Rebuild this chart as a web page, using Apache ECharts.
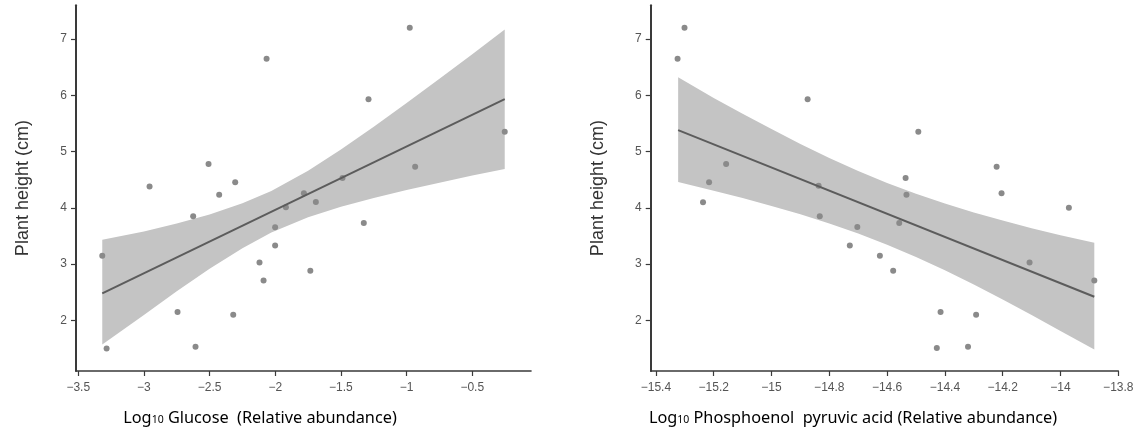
<!DOCTYPE html>
<html>
<head>
<meta charset="utf-8">
<script src="https://cdn.jsdelivr.net/npm/echarts@6/dist/echarts.min.js"></script>
<style>
html,body{margin:0;padding:0;background:#fff;}
#chart{width:1143px;height:437px;}
</style>
</head>
<body>
<div id="chart"></div>
<script>
// ---------- data ----------
const yTicks = [2, 3, 4, 5, 6, 7];
const leftXTicks = [-3.5, -3, -2.5, -2, -1.5, -1, -0.5];
const rightXTicks = [-15.4, -15.2, -15, -14.8, -14.6, -14.4, -14.2, -14, -13.8];

// Left panel: Log10 Glucose vs plant height
const glucoseX = [-3.317, -3.284, -2.957, -2.744, -2.625, -2.607, -2.508, -2.427, -2.320, -2.305,
  -2.120, -2.089, -2.066, -2.001, -2.001, -1.919, -1.782, -1.733, -1.691, -1.488,
  -1.326, -1.290, -0.976, -0.935, -0.253];
const glucoseY = [3.15, 1.50, 4.38, 2.15, 3.85, 1.53, 4.78, 4.23, 2.10, 4.455,
  3.03, 2.71, 6.65, 3.655, 3.33, 4.01, 4.26, 2.88, 4.105, 4.53,
  3.73, 5.93, 7.20, 4.73, 5.35];
const glucoseFitX = [-3.317, -0.253];
const glucoseFitY = [2.48, 5.93];
const glucoseBandX = [-3.317, -3.0, -2.75, -2.5, -2.25, -2.03, -1.75, -1.5, -1.25, -1.0, -0.75, -0.5, -0.253];
const glucoseBandUpper = [3.43, 3.577, 3.721, 3.883, 4.079, 4.299, 4.658, 5.035, 5.441, 5.863, 6.293, 6.728, 7.17];
const glucoseBandLower = [1.57, 2.097, 2.515, 2.917, 3.283, 3.559, 3.830, 4.017, 4.173, 4.315, 4.447, 4.576, 4.69];

// Right panel: Log10 Phosphoenol pyruvic acid vs plant height
const pepX = [-15.325, -15.301, -15.237, -15.216, -15.157, -14.875, -14.837, -14.833, -14.729, -14.703,
  -14.625, -14.579, -14.558, -14.536, -14.533, -14.492, -14.428, -14.415, -14.320, -14.292,
  -14.221, -14.204, -14.107, -13.971, -13.883];
const pepY = [6.65, 7.20, 4.10, 4.455, 4.78, 5.93, 4.39, 3.85, 3.33, 3.66,
  3.15, 2.88, 3.73, 4.53, 4.23, 5.35, 1.51, 2.15, 1.53, 2.10,
  4.73, 4.26, 3.03, 4.00, 2.71];
const pepFitX = [-15.323, -13.883];
const pepFitY = [5.38, 2.42];
const pepBandX = [-15.323, -15.2, -15.1, -15.0, -14.9, -14.8, -14.7, -14.6, -14.5, -14.4, -14.3, -14.2, -14.1, -14.0, -13.883];
const pepBandUpper = [6.32, 5.953, 5.672, 5.398, 5.135, 4.887, 4.654, 4.441, 4.249, 4.075, 3.918, 3.773, 3.638, 3.510, 3.38];
const pepBandLower = [4.46, 4.301, 4.172, 4.034, 3.885, 3.723, 3.544, 3.345, 3.127, 2.889, 2.636, 2.369, 2.094, 1.810, 1.48];

// ---------- helpers ----------
const zip = (a, b) => a.map((v, i) => [v, b[i]]);
const minusFmt = v => String(v).replace('-', '\u2212');
const ARIAL = "'Liberation Sans', Arial, sans-serif";
const TITLEFONT = "'Noto Sans', 'Open Sans', sans-serif";

function bandSeries(idx, bx, up, lo) {
  return {
    type: 'custom',
    xAxisIndex: idx, yAxisIndex: idx,
    silent: true, z: 1,
    data: [[bx[0], up[0]]],
    renderItem: function (params, api) {
      const pts = [];
      for (let i = 0; i < bx.length; i++) pts.push(api.coord([bx[i], up[i]]));
      for (let i = bx.length - 1; i >= 0; i--) pts.push(api.coord([bx[i], lo[i]]));
      return { type: 'polygon', shape: { points: pts }, style: { fill: '#c4c4c4', stroke: null } };
    }
  };
}

function xAxis(idx, min, max, ticks) {
  return {
    type: 'value', gridIndex: idx, min: min, max: max,
    axisLine: { show: true, lineStyle: { color: '#3a3a3a', width: 1.6 } },
    axisTick: { show: true, length: 5, customValues: ticks, lineStyle: { color: '#3a3a3a', width: 1.2 } },
    axisLabel: { customValues: ticks, formatter: minusFmt, color: '#555', fontSize: 12, margin: 11, fontFamily: ARIAL },
    splitLine: { show: false }
  };
}
function yAxis(idx) {
  return {
    type: 'value', gridIndex: idx, min: 1.1, max: 7.6,
    name: 'Plant height (cm)', nameLocation: 'middle', nameGap: 44,
    nameTextStyle: { color: '#333', fontSize: 18, fontFamily: ARIAL },
    axisLine: { show: true, lineStyle: { color: '#3a3a3a', width: 2 } },
    axisTick: { show: true, length: 5, customValues: yTicks, lineStyle: { color: '#3a3a3a', width: 1.2 } },
    axisLabel: { customValues: yTicks, color: '#555', fontSize: 12, margin: 9, fontFamily: ARIAL },
    splitLine: { show: false }
  };
}

const titleRich = {
  n: { fontSize: 16.3, color: '#222', fontFamily: TITLEFONT },
  s: { fontSize: 10.5, color: '#222', fontFamily: TITLEFONT, padding: [5, 0, 0, 0] }
};

const option = {
  backgroundColor: '#fff',
  animation: false,
  grid: [
    { left: 76, top: 5.2, width: 455, height: 365.8 },
    { left: 650.7, top: 5.2, width: 467.6, height: 365.8 }
  ],
  xAxis: [xAxis(0, -3.517, -0.053, leftXTicks), xAxis(1, -15.418, -13.8, rightXTicks)],
  yAxis: [yAxis(0), yAxis(1)],
  graphic: [
    { type: 'text', x: 260, y: 418, style: { text: '{n|Log}{s|10}{n| Glucose  (Relative abundance)}', rich: titleRich, align: 'center', verticalAlign: 'middle' } },
    { type: 'text', x: 853, y: 418, style: { text: '{n|Log}{s|10}{n| Phosphoenol  pyruvic acid (Relative abundance)}', rich: titleRich, align: 'center', verticalAlign: 'middle' } }
  ],
  series: [
    bandSeries(0, glucoseBandX, glucoseBandUpper, glucoseBandLower),
    { type: 'scatter', xAxisIndex: 0, yAxisIndex: 0, z: 2, symbolSize: 6, itemStyle: { color: '#8a8a8a', opacity: 1 }, data: zip(glucoseX, glucoseY) },
    { type: 'line', xAxisIndex: 0, yAxisIndex: 0, z: 3, symbol: 'none', lineStyle: { color: '#5c5c5c', width: 2 }, data: zip(glucoseFitX, glucoseFitY) },
    bandSeries(1, pepBandX, pepBandUpper, pepBandLower),
    { type: 'scatter', xAxisIndex: 1, yAxisIndex: 1, z: 2, symbolSize: 6, itemStyle: { color: '#8a8a8a', opacity: 1 }, data: zip(pepX, pepY) },
    { type: 'line', xAxisIndex: 1, yAxisIndex: 1, z: 3, symbol: 'none', lineStyle: { color: '#5c5c5c', width: 2 }, data: zip(pepFitX, pepFitY) }
  ]
};

const chart = echarts.init(document.getElementById('chart'), null, { renderer: 'canvas' });
chart.setOption(option);
</script>
</body>
</html>
